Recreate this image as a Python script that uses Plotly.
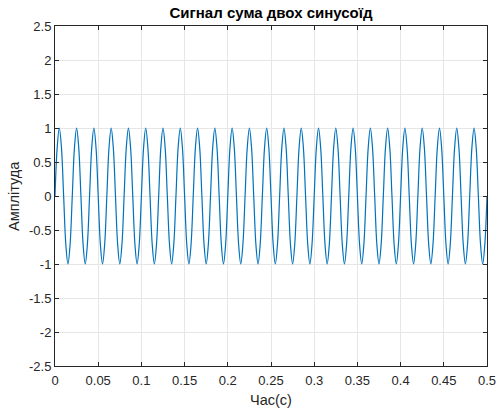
import plotly.graph_objects as go

# Sample spacing of the signal (s) and start time
t_start = 0.0
t_step = 0.0025

# Signal samples (8 samples per 0.02 s cycle)
amplitude = [
    0, 0.707, 1, 0.707, 0, -0.707, -1, -0.707,
    0, 0.707, 1, 0.707, 0, -0.707, -1, -0.707,
    0, 0.707, 1, 0.707, 0, -0.707, -1, -0.707,
    0, 0.707, 1, 0.707, 0, -0.707, -1, -0.707,
    0, 0.707, 1, 0.707, 0, -0.707, -1, -0.707,
    0, 0.707, 1, 0.707, 0, -0.707, -1, -0.707,
    0, 0.707, 1, 0.707, 0, -0.707, -1, -0.707,
    0, 0.707, 1, 0.707, 0, -0.707, -1, -0.707,
    0, 0.707, 1, 0.707, 0, -0.707, -1, -0.707,
    0, 0.707, 1, 0.707, 0, -0.707, -1, -0.707,
    0, 0.707, 1, 0.707, 0, -0.707, -1, -0.707,
    0, 0.707, 1, 0.707, 0, -0.707, -1, -0.707,
    0, 0.707, 1, 0.707, 0, -0.707, -1, -0.707,
    0, 0.707, 1, 0.707, 0, -0.707, -1, -0.707,
    0, 0.707, 1, 0.707, 0, -0.707, -1, -0.707,
    0, 0.707, 1, 0.707, 0, -0.707, -1, -0.707,
    0, 0.707, 1, 0.707, 0, -0.707, -1, -0.707,
    0, 0.707, 1, 0.707, 0, -0.707, -1, -0.707,
    0, 0.707, 1, 0.707, 0, -0.707, -1, -0.707,
    0, 0.707, 1, 0.707, 0, -0.707, -1, -0.707,
    0, 0.707, 1, 0.707, 0, -0.707, -1, -0.707,
    0, 0.707, 1, 0.707, 0, -0.707, -1, -0.707,
    0, 0.707, 1, 0.707, 0, -0.707, -1, -0.707,
    0, 0.707, 1, 0.707, 0, -0.707, -1, -0.707,
    0, 0.707, 1, 0.707, 0, -0.707, -1, -0.707,
    0,
]

x_ticks = [0, 0.05, 0.1, 0.15, 0.2, 0.25, 0.3, 0.35, 0.4, 0.45, 0.5]
x_tick_labels = ["0", "0.05", "0.1", "0.15", "0.2", "0.25", "0.3", "0.35", "0.4", "0.45", "0.5"]
y_ticks = [-2.5, -2, -1.5, -1, -0.5, 0, 0.5, 1, 1.5, 2, 2.5]
y_tick_labels = ["-2.5", "-2", "-1.5", "-1", "-0.5", "0", "0.5", "1", "1.5", "2", "2.5"]

title_text = "Сигнал сума двох синусоїд"
x_title = "Час(с)"
y_title = "Амплітуда"

FONT = "Liberation Sans, Arial, sans-serif"
W, H = 497, 414
L, R, T, B = 55, 10, 26, 48

fig = go.Figure()
fig.add_trace(go.Scatter(
    x0=t_start, dx=t_step, y=amplitude,
    mode="lines",
    line=dict(color="#0072BD", width=1.2, shape="spline", smoothing=1.0),
    showlegend=False, hoverinfo="skip",
))

axis_common = dict(
    showline=True, linecolor="#262626", linewidth=1, mirror="ticks",
    ticks="inside", ticklen=4, tickcolor="#262626",
    showgrid=True, gridcolor="#E6E6E6", gridwidth=1,
    zeroline=False, automargin=False,
    tickfont=dict(family=FONT, size=13, color="#262626"),
)

fig.update_layout(
    width=W, height=H,
    margin=dict(l=L, r=R, t=T, b=B),
    paper_bgcolor="white", plot_bgcolor="white",
    title=dict(
        text="<b>" + title_text + "</b>",
        x=(L + (W - R)) / 2 / W, xanchor="center",
        y=1 - 12.5 / H, yanchor="middle",
        font=dict(family=FONT, size=15, color="#000000"),
    ),
    xaxis=dict(
        range=[0, 0.5], tickvals=x_ticks, ticktext=x_tick_labels,
        ticklabelstandoff=2,
        **axis_common,
    ),
    yaxis=dict(
        range=[-2.5, 2.5], tickvals=y_ticks, ticktext=y_tick_labels,
        **axis_common,
    ),
    annotations=[
        dict(text=x_title, xref="paper", yref="paper",
             x=0.5, y=-(400 - (H - B)) / (H - T - B), xanchor="center", yanchor="middle",
             showarrow=False, font=dict(family=FONT, size=14.5, color="#262626")),
        dict(text=y_title, xref="paper", yref="paper",
             x=-(L - 14) / (W - L - R), y=0.5, xanchor="center", yanchor="middle",
             textangle=-90,
             showarrow=False, font=dict(family=FONT, size=14.5, color="#262626")),
    ],
)

fig.write_html("out.html")
